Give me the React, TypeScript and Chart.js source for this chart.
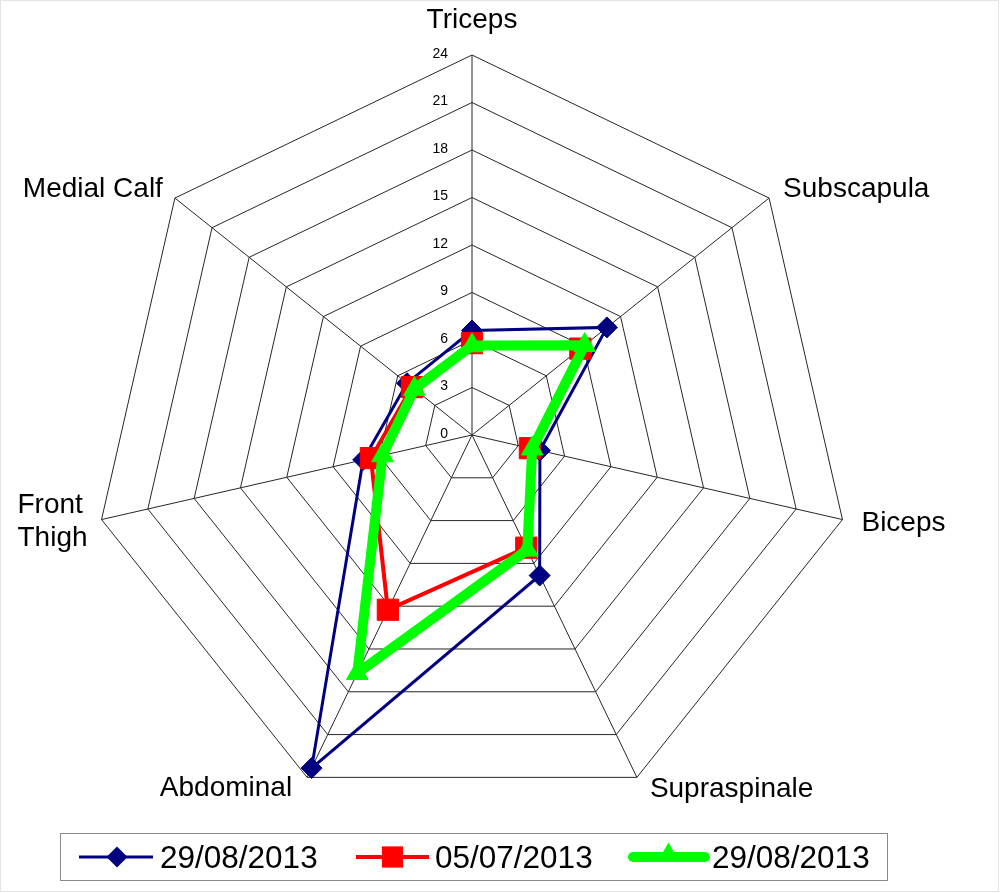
import React, { useEffect, useRef } from 'react';
import { Chart, registerables } from 'chart.js';

Chart.register(...registerables);

// ---------- data ----------
const categories: (string | string[])[] = [
  'Triceps',
  'Subscapula',
  'Biceps',
  'Supraspinale',
  'Abdominal',
  ['Front', 'Thigh'],
  'Medial Calf',
];
const seriesNames = ['29/08/2013', '05/07/2013', '29/08/2013'];
const navyValues = [6.6, 10.9, 4.4, 9.85, 23.35, 7.05, 5.25];
const redValues = [5.8, 8.75, 3.75, 7.9, 12.25, 6.55, 4.85];
const greenValues = [5.65, 9.1, 3.9, 8.05, 16.7, 5.8, 4.65];
const tickLabels = ['0', '3', '6', '9', '12', '15', '18', '21', '24'];

// ---------- styles ----------
const FONT = '"Liberation Sans", Arial, Helvetica, sans-serif';
const NAVY = '#000080';
const RED = '#FF0000';
const GREEN = '#00FF00';

// label placement relative to each outer vertex: [dx, dyBaseline, align]
const LABEL_LAYOUT: [number, number, string][] = [
  [0, -27, 'center'],
  [14, -1, 'left'],
  [19, 11.5, 'left'],
  [13, 20, 'left'],
  [-15, 19, 'right'],
  [-14, -6.5, 'block'],
  [-12, -1, 'right'],
];

function drawMarker(ctx: CanvasRenderingContext2D, style: string, x: number, y: number, r: number, color: string) {
  ctx.save();
  ctx.fillStyle = color;
  ctx.beginPath();
  if (style === 'rectRot') {
    ctx.moveTo(x, y - r);
    ctx.lineTo(x + r, y);
    ctx.lineTo(x, y + r);
    ctx.lineTo(x - r, y);
  } else if (style === 'rect') {
    const s = r * Math.SQRT1_2;
    ctx.rect(x - s, y - s, 2 * s, 2 * s);
  } else {
    const w = r * Math.sin((2 * Math.PI) / 3);
    ctx.moveTo(x, y - r);
    ctx.lineTo(x + w, y + r / 2);
    ctx.lineTo(x - w, y + r / 2);
  }
  ctx.closePath();
  ctx.fill();
  ctx.restore();
}

const decorPlugin = {
  id: 'decor',
  beforeDatasetsDraw(chart: any) {
    const s = chart.scales.r;
    const ctx = chart.ctx as CanvasRenderingContext2D;
    ctx.save();
    ctx.font = `14px ${FONT}`;
    ctx.fillStyle = '#000';
    ctx.textAlign = 'right';
    ctx.textBaseline = 'middle';
    s.ticks.forEach((t: any, i: number) => {
      const d = s.getDistanceFromCenterForValue(t.value);
      ctx.fillText(tickLabels[i] ?? String(t.value), s.xCenter - 24, s.yCenter - d - 1);
    });
    ctx.restore();
  },
  afterDraw(chart: any) {
    const s = chart.scales.r;
    const ctx = chart.ctx as CanvasRenderingContext2D;
    ctx.save();
    // point labels
    ctx.font = `28px ${FONT}`;
    ctx.fillStyle = '#000';
    ctx.textBaseline = 'alphabetic';
    categories.forEach((cat, i) => {
      const p = s.getPointPosition(i, s.drawingArea);
      const [dx, dy, align] = LABEL_LAYOUT[i];
      if (Array.isArray(cat)) {
        const maxW = Math.max(...cat.map((c) => ctx.measureText(c).width));
        ctx.textAlign = 'left';
        cat.forEach((line, k) => {
          ctx.fillText(line, p.x + dx - maxW, p.y + dy + k * 33);
        });
      } else {
        ctx.textAlign = align as CanvasTextAlign;
        ctx.fillText(cat, p.x + dx, p.y + dy);
      }
    });

    // legend box
    ctx.strokeStyle = '#8a8a8a';
    ctx.lineWidth = 1;
    ctx.strokeRect(60.5, 833.5, 827, 47);

    const ly = 857;
    const items = [
      { x0: 79, x1: 153, mx: 117, color: NAVY, w: 3, style: 'rectRot', r: 10.5, tx: 160, cap: 'butt' },
      { x0: 356, x1: 429, mx: 392.5, color: RED, w: 4, style: 'rect', r: 15, tx: 435, cap: 'butt' },
      { x0: 633, x1: 705, mx: 668.5, color: GREEN, w: 10, style: 'triangle', r: 12.5, tx: 712, cap: 'round' },
    ];
    ctx.font = `31.5px ${FONT}`;
    ctx.textAlign = 'left';
    items.forEach((it, i) => {
      ctx.strokeStyle = it.color;
      ctx.lineWidth = it.w;
      ctx.lineCap = it.cap as CanvasLineCap;
      ctx.beginPath();
      ctx.moveTo(it.x0, ly);
      ctx.lineTo(it.x1, ly);
      ctx.stroke();
      drawMarker(ctx, it.style, it.mx, it.style === 'triangle' ? ly - 2 : ly, it.r, it.color);
      ctx.fillStyle = '#000';
      ctx.fillText(seriesNames[i], it.tx, 868);
    });

    // faint outer frame
    ctx.strokeStyle = '#e4e4e4';
    ctx.lineWidth = 1;
    ctx.strokeRect(0.5, 0.5, 998, 891);
    ctx.restore();
  },
};

export default function App() {
  const ref = useRef<HTMLCanvasElement | null>(null);

  useEffect(() => {
    if (!ref.current) return;
    const chart = new Chart(ref.current, {
      type: 'radar',
      data: {
        labels: categories.map((c) => (Array.isArray(c) ? c.join(' ') : c)),
        datasets: [
          {
            label: seriesNames[0],
            data: navyValues,
            borderColor: NAVY,
            backgroundColor: NAVY,
            borderWidth: 3,
            fill: false,
            pointStyle: 'rectRot',
            pointRadius: 10.5,
            pointBackgroundColor: NAVY,
            pointBorderColor: NAVY,
            pointBorderWidth: 1,
            order: 3,
          },
          {
            label: seriesNames[1],
            data: redValues,
            borderColor: RED,
            backgroundColor: RED,
            borderWidth: 4,
            fill: false,
            pointStyle: 'rect',
            pointRadius: 15,
            pointBackgroundColor: RED,
            pointBorderColor: RED,
            pointBorderWidth: 1,
            order: 2,
          },
          {
            label: seriesNames[2],
            data: greenValues,
            borderColor: GREEN,
            backgroundColor: GREEN,
            borderWidth: 10,
            borderJoinStyle: 'round',
            fill: false,
            pointStyle: 'triangle',
            pointRadius: 12.5,
            pointBackgroundColor: GREEN,
            pointBorderColor: GREEN,
            pointBorderWidth: 1,
            order: 1,
          },
        ],
      },
      options: {
        responsive: false,
        animation: false,
        devicePixelRatio: 1,
        layout: { padding: { left: 92, right: 148, top: 55, bottom: 78 } },
        plugins: {
          legend: { display: false },
          tooltip: { enabled: false },
        },
        elements: { line: { tension: 0 } },
        scales: {
          r: {
            min: 0,
            max: 24,
            beginAtZero: true,
            ticks: { stepSize: 3, display: false, showLabelBackdrop: false },
            pointLabels: { display: false },
            grid: { circular: false, color: '#262626', lineWidth: 1 },
            angleLines: { display: true, color: '#262626', lineWidth: 1 },
          },
        },
      },
      plugins: [decorPlugin],
    } as any);
    return () => chart.destroy();
  }, []);

  return (
    <div style={{ position: 'fixed', left: 0, top: 0, width: 1000, height: 893, background: '#fff' }}>
      <canvas ref={ref} width={1000} height={893} style={{ width: 1000, height: 893, display: 'block' }} />
    </div>
  );
}
